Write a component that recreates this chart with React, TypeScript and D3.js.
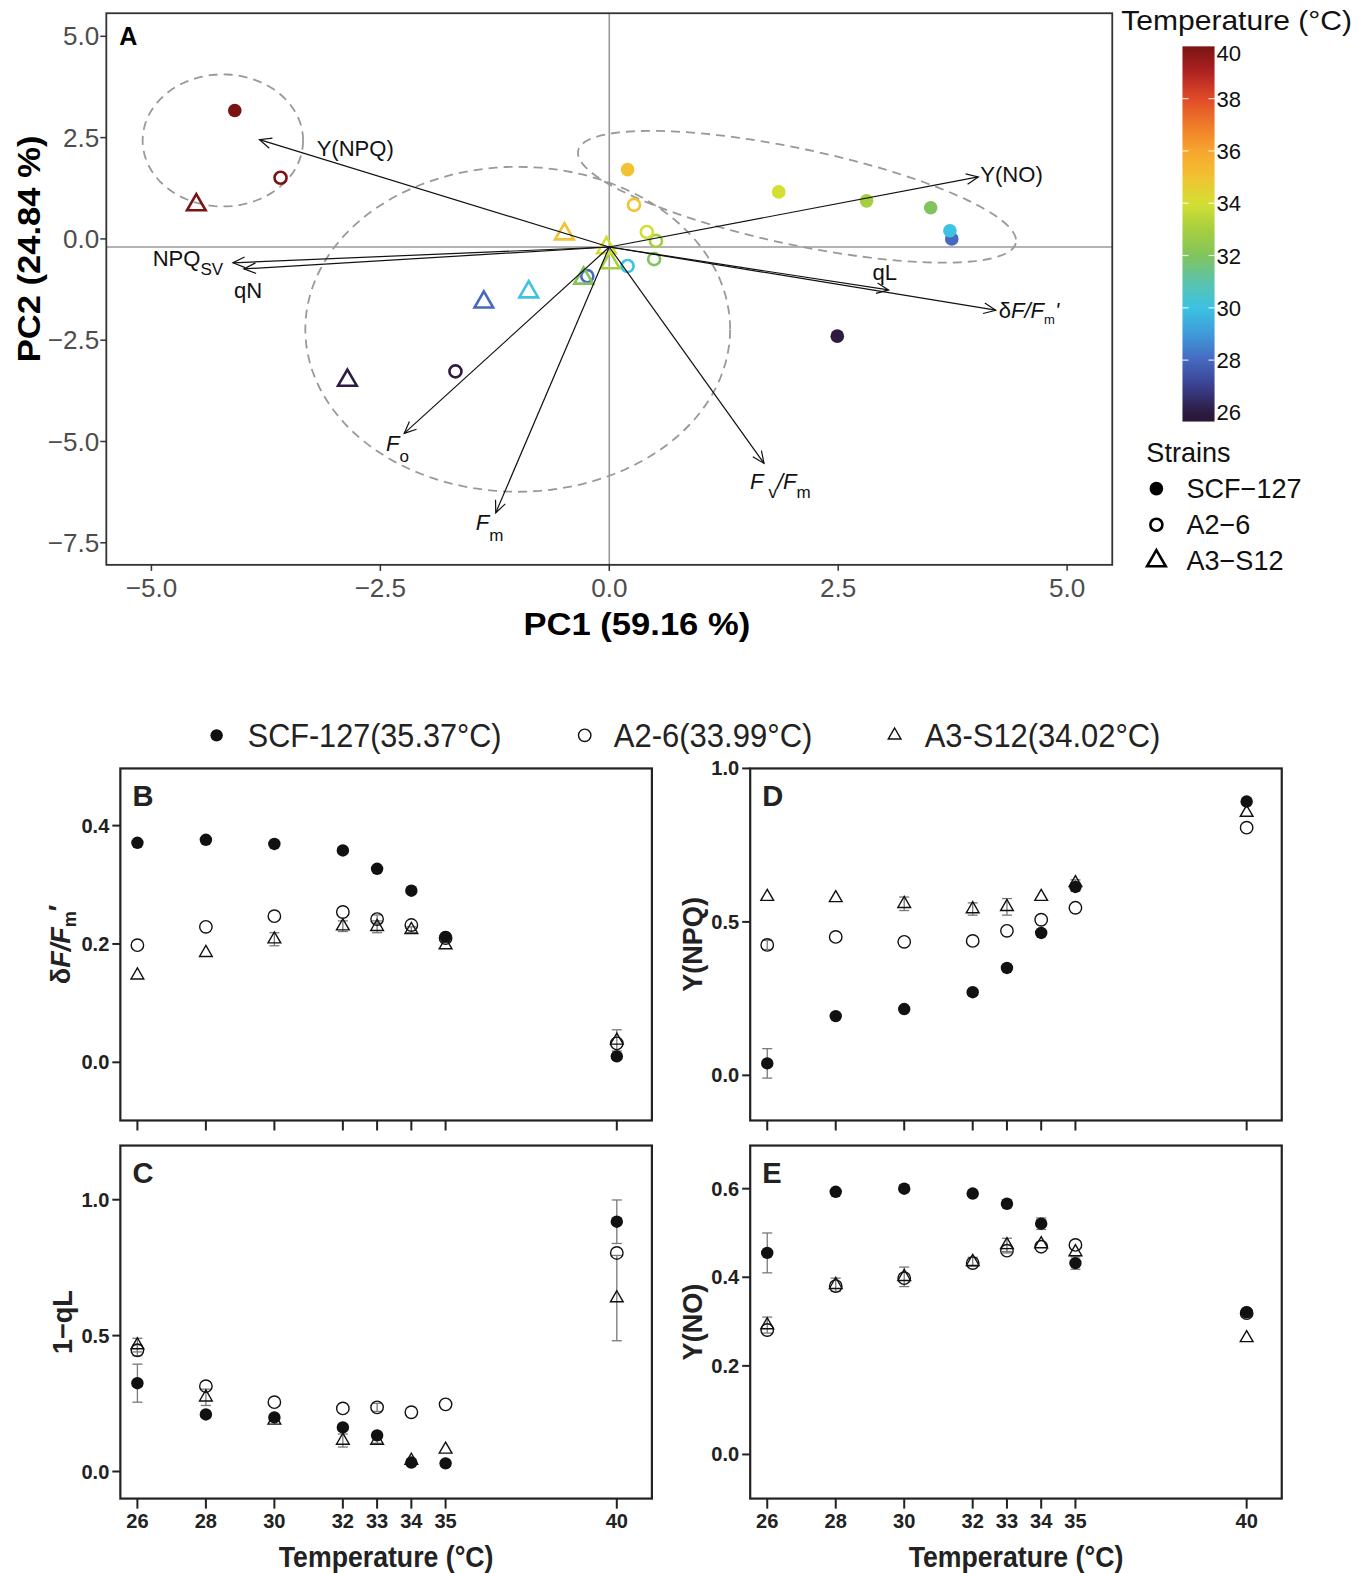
import React from 'react';
import * as d3 from 'd3';

const W = 1363, H = 1568;
const fontA = "'Liberation Sans', Arial, Helvetica, sans-serif";
const fontN = "'Liberation Sans Narrow', 'Arial Narrow', 'Liberation Sans', sans-serif";

// ---------- data ----------
const temps = [26, 28, 30, 32, 33, 34, 35, 40];
const strainLegend = ['SCF\u2212127', 'A2\u22126', 'A3\u2212S12'];
const strainTopt = ['SCF-127(35.37°C)', 'A2-6(33.99°C)', 'A3-S12(34.02°C)'];

// PCA scores (PC1, PC2) per temperature
const pc1SCF = [2.49, 3.74, 3.72, 3.51, 2.81, 1.85, 0.20, -4.09];
const pc2SCF = [-2.40, 0.00, 0.20, 0.77, 0.94, 1.16, 1.71, 3.17];
const pc1A26 = [-1.68, -0.24, 0.20, 0.49, 0.51, 0.41, 0.27, -3.59];
const pc2A26 = [-3.27, -0.92, -0.67, -0.50, -0.05, 0.17, 0.84, 1.51];
const pc1A3 = [-2.86, -1.37, -0.88, -0.28, 0.01, -0.03, -0.49, -4.51];
const pc2A3 = [-3.49, -1.56, -1.31, -0.97, -0.59, -0.22, 0.12, 0.84];

// loadings (arrow tips) and their origin
const loadingNames = ['YNPQ', 'NPQsv', 'qN', 'YNO', 'qL', 'dF', 'Fo', 'Fm', 'FvFm'];
const loadingPC1 = [-3.82, -4.11, -3.99, 4.03, 3.05, 4.22, -2.24, -1.24, 1.69];
const loadingPC2 = [2.45, -0.59, -0.74, 1.53, -1.26, -1.76, -4.80, -6.76, -5.54];
const loadingOrigin = [0, -0.2];

// cluster ellipses: center, semi-axis vectors (data units)
const ellipseCenters = [[-4.22, 2.43], [-1.00, -2.23], [2.05, 1.04]];
const ellipseAxisA = [[0.876, 0], [2.32, 0], [2.39, -1.14]];
const ellipseAxisB = [[0, 1.63], [0, 4.01], [-0.11, -1.16]];

const pcaXTicks = [-5, -2.5, 0, 2.5, 5];
const pcaYTicks = [5, 2.5, 0, -2.5, -5, -7.5];
const colorTicks = [26, 28, 30, 32, 34, 36, 38, 40];
const colorStops: [number, string][] = [
  [25.6, '#2a1838'], [26, '#2d1b40'], [27, '#3a3f8e'], [28, '#4668bf'], [29, '#3f9bd9'],
  [30, '#3cc2e2'], [31, '#5cc3ab'], [32, '#82c45c'], [33, '#a6cf3f'], [34, '#d3df33'],
  [35, '#f1c232'], [36, '#f7a52e'], [37, '#ef7a29'], [38, '#df4b28'], [39, '#b02222'], [40, '#7a1414'],
];

// panel B: deltaF/Fm'
const dF_SCF = [0.371, 0.376, 0.369, 0.358, 0.327, 0.290, 0.212, 0.010];
const dF_A26 = [0.198, 0.229, 0.247, 0.254, 0.242, 0.232, 0.210, 0.032];
const dF_A3 = [0.147, 0.185, 0.208, 0.230, 0.229, 0.224, 0.198, 0.037];
const dF_SCF_se = [0, 0, 0, 0, 0, 0, 0, 0];
const dF_A26_se = [0, 0, 0, 0, 0.007, 0, 0, 0];
const dF_A3_se = [0, 0, 0.011, 0.009, 0.010, 0.005, 0, 0.018];

// panel C: 1-qL
const qL_SCF = [0.325, 0.210, 0.199, 0.162, 0.133, 0.033, 0.030, 0.919];
const qL_A26 = [0.446, 0.314, 0.255, 0.232, 0.236, 0.218, 0.247, 0.804];
const qL_A3 = [0.465, 0.273, 0.188, 0.114, 0.114, 0.040, 0.081, 0.638];
const qL_SCF_se = [0.07, 0, 0, 0, 0, 0, 0, 0.08];
const qL_A26_se = [0.02, 0, 0, 0, 0.015, 0, 0, 0];
const qL_A3_se = [0.025, 0.03, 0, 0.024, 0.01, 0, 0, 0.157];

// panel D: Y(NPQ)
const npq_SCF = [0.039, 0.193, 0.216, 0.271, 0.350, 0.464, 0.614, 0.892];
const npq_A26 = [0.425, 0.451, 0.435, 0.438, 0.471, 0.507, 0.546, 0.807];
const npq_A3 = [0.582, 0.578, 0.559, 0.542, 0.549, 0.582, 0.627, 0.856];
const npq_SCF_se = [0.048, 0, 0, 0, 0, 0, 0.013, 0];
const npq_A26_se = [0.015, 0, 0, 0, 0, 0, 0, 0];
const npq_A3_se = [0, 0, 0.022, 0.02, 0.027, 0, 0.01, 0];

// panel E: Y(NO)
const no_SCF = [0.455, 0.593, 0.600, 0.589, 0.566, 0.521, 0.432, 0.321];
const no_A26 = [0.281, 0.380, 0.398, 0.432, 0.460, 0.469, 0.473, 0.319];
const no_A3 = [0.292, 0.383, 0.401, 0.435, 0.473, 0.475, 0.457, 0.263];
const no_SCF_se = [0.045, 0, 0, 0, 0, 0.013, 0.014, 0];
const no_A26_se = [0, 0, 0, 0, 0.005, 0, 0, 0];
const no_A3_se = [0.018, 0.015, 0.022, 0.01, 0.015, 0, 0, 0];

// ---------- helpers ----------
const triPath = (size: number) => d3.symbol(d3.symbolTriangle, size)() as string;

function Marker({ type, x, y, color, big }: { type: number; x: number; y: number; color: string; big: boolean }) {
  if (type === 0) return <circle cx={x} cy={y} r={big ? 6.8 : 6.2} fill={color} />;
  if (type === 1)
    return <circle cx={x} cy={y} r={big ? 6 : 6.2} fill="none" stroke={color} strokeWidth={big ? 2.6 : 1.4} />;
  return (
    <path d={triPath(big ? 150 : 70)} transform={`translate(${x},${y})`} fill="none" stroke={color}
      strokeWidth={big ? 2.6 : 1.4} strokeLinejoin="miter" />
  );
}

function arrowHead(x1: number, y1: number, x2: number, y2: number) {
  const ang = Math.atan2(y2 - y1, x2 - x1);
  const L = 13, a = Math.PI / 7.5;
  const p1 = [x2 - L * Math.cos(ang - a), y2 - L * Math.sin(ang - a)];
  const p2 = [x2 - L * Math.cos(ang + a), y2 - L * Math.sin(ang + a)];
  return `M${p1[0]},${p1[1]}L${x2},${y2}L${p2[0]},${p2[1]}`;
}

function LoadingLabel({ name, x, y }: { name: string; x: number; y: number }) {
  const fs = 22, sub = 17;
  const common = { fontFamily: fontA, fontSize: fs, fill: '#111' } as any;
  switch (name) {
    case 'YNPQ': return <text x={x + 57} y={y + 16} {...common}>Y(NPQ)</text>;
    case 'NPQsv': return <text x={x - 80} y={y + 3} {...common}>NPQ<tspan fontSize={sub} dy={9}>SV</tspan></text>;
    case 'qN': return <text x={x - 10} y={y + 29} {...common}>qN</text>;
    case 'YNO': return <text x={x + 2} y={y + 5} {...common}>Y(NO)</text>;
    case 'qL': return <text x={x - 16} y={y - 10} {...common}>qL</text>;
    case 'dF': return (
      <text x={x + 3} y={y + 8} {...common}>δ<tspan fontStyle="italic">F/F</tspan>
        <tspan fontSize={13} dy={6}>m</tspan><tspan dy={-6} fontStyle="italic">'</tspan></text>);
    case 'Fo': return (
      <text x={x - 18} y={y + 18} {...common}><tspan fontStyle="italic">F</tspan>
        <tspan fontSize={sub} dy={11}>o</tspan></text>);
    case 'Fm': return (
      <text x={x - 20} y={y + 17} {...common}><tspan fontStyle="italic">F</tspan>
        <tspan fontSize={sub} dy={11}>m</tspan></text>);
    case 'FvFm': return (
      <text x={x - 14} y={y + 26} {...common}><tspan fontStyle="italic">F</tspan>
        <tspan fontSize={sub} dx={5} dy={9}>v</tspan><tspan dy={-9} fontStyle="italic">/F</tspan>
        <tspan fontSize={sub} dy={9}>m</tspan></text>);
  }
  return null;
}

// ---------- bottom panels ----------
type PanelCfg = {
  letter: string; frame: [number, number, number, number]; yDom: [number, number];
  yRange: [number, number]; yTicks: number[]; fmt: string; xRange: [number, number];
  vals: number[][]; errs: number[][]; xLabels: boolean; title: React.ReactNode; titleX: number;
};

function BottomPanel({ cfg }: { cfg: PanelCfg }) {
  const [x0, y0, x1, y1] = cfg.frame;
  const x = d3.scaleLinear().domain([26, 40]).range(cfg.xRange);
  const y = d3.scaleLinear().domain(cfg.yDom).range(cfg.yRange);
  const f = d3.format(cfg.fmt);
  const order = [1, 0, 2];
  return (
    <g>
      {/* y ticks */}
      {cfg.yTicks.map(t => (
        <g key={t}>
          <line x1={x0 - 8} x2={x0} y1={y(t)} y2={y(t)} stroke="#222" strokeWidth={2} />
          <text x={x0 - 11} y={y(t) + 7} textAnchor="end" fontFamily={fontN} fontWeight="bold" fontSize={20} fill="#222">{f(t)}</text>
        </g>
      ))}
      {/* x ticks */}
      {temps.map(t => (
        <g key={t}>
          <line x1={x(t)} x2={x(t)} y1={y1} y2={y1 + 10} stroke="#222" strokeWidth={2} />
          {cfg.xLabels && (
            <text x={x(t)} y={y1 + 29} textAnchor="middle" fontFamily={fontN} fontWeight="bold" fontSize={20} fill="#222">{t}</text>
          )}
        </g>
      ))}
      {/* error bars */}
      {order.map(s => cfg.errs[s].map((e, i) => e > 0 ? (
        <g key={`e${s}-${i}`} stroke="#7a7a7a" strokeWidth={1.3}>
          <line x1={x(temps[i])} x2={x(temps[i])} y1={y(cfg.vals[s][i] - e)} y2={y(cfg.vals[s][i] + e)} />
          <line x1={x(temps[i]) - 5} x2={x(temps[i]) + 5} y1={y(cfg.vals[s][i] - e)} y2={y(cfg.vals[s][i] - e)} />
          <line x1={x(temps[i]) - 5} x2={x(temps[i]) + 5} y1={y(cfg.vals[s][i] + e)} y2={y(cfg.vals[s][i] + e)} />
        </g>
      ) : null))}
      {/* points */}
      {order.map(s => cfg.vals[s].map((v, i) => (
        <Marker key={`p${s}-${i}`} type={s} x={x(temps[i])} y={y(v)} color="#111" big={false} />
      )))}
      <rect x={x0} y={y0} width={x1 - x0} height={y1 - y0} fill="none" stroke="#222" strokeWidth={2.2} />
      <text x={x0 + 12} y={y0 + 37} fontFamily={fontA} fontWeight="bold" fontSize={29} fill="#222">{cfg.letter}</text>
      <text transform={`translate(${cfg.titleX},${(y0 + y1) / 2}) rotate(-90)`} textAnchor="middle"
        fontFamily={fontN} fontWeight="bold" fontSize={27} fill="#222">{cfg.title}</text>
      {cfg.xLabels && (
        <text x={(x0 + x1) / 2} y={1562} textAnchor="middle" fontFamily={fontN} fontWeight="bold" fontSize={29}
          fill="#222" textLength={214} lengthAdjust="spacingAndGlyphs">Temperature (°C)</text>
      )}
    </g>
  );
}

export default function App() {
  // PCA panel
  const xA = d3.scaleLinear().domain([-5, 5]).range([151, 1064]);
  const yA = d3.scaleLinear().domain([-7.5, 5]).range([541, 36]);
  const frameA = { x0: 106, y0: 13, x1: 1109, y1: 563 };
  const tColor = d3.scaleLinear<string>().domain(colorStops.map(d => d[0])).range(colorStops.map(d => d[1]))
    .interpolate(d3.interpolateRgb).clamp(true);
  const cbY = d3.scaleLinear().domain([26, 40]).range([411, 46]);
  const cbTop = cbY(40), cbBot = cbY(25.65);

  const pcaSeries = [[pc1SCF, pc2SCF], [pc1A26, pc2A26], [pc1A3, pc2A3]];
  const ox = xA(loadingOrigin[0]), oy = yA(loadingOrigin[1]);

  const ellipsePath = (k: number) => {
    const pts: [number, number][] = d3.range(0, 361, 3).map(deg => {
      const t = (deg * Math.PI) / 180;
      const c = ellipseCenters[k], a = ellipseAxisA[k], b = ellipseAxisB[k];
      return [xA(c[0] + a[0] * Math.cos(t) + b[0] * Math.sin(t)), yA(c[1] + a[1] * Math.cos(t) + b[1] * Math.sin(t))];
    });
    return d3.line()(pts) as string;
  };

  const panels: PanelCfg[] = [
    { letter: 'B', frame: [120, 766, 650, 1117], yDom: [0, 0.4], yRange: [1059, 823], yTicks: [0, 0.2, 0.4], fmt: '.1f',
      xRange: [137, 615], vals: [dF_SCF, dF_A26, dF_A3], errs: [dF_SCF_se, dF_A26_se, dF_A3_se], xLabels: false, titleX: 70,
      title: <>δ<tspan fontStyle="italic">F</tspan><tspan fontStyle="italic">/F</tspan><tspan fontSize={18} dy={6}>m</tspan><tspan dy={-8}>′</tspan></> },
    { letter: 'D', frame: [748, 766, 1278, 1117], yDom: [0, 1], yRange: [1072, 766], yTicks: [0, 0.5, 1], fmt: '.1f',
      xRange: [765, 1243], vals: [npq_SCF, npq_A26, npq_A3], errs: [npq_SCF_se, npq_A26_se, npq_A3_se], xLabels: false, titleX: 700,
      title: 'Y(NPQ)' },
    { letter: 'C', frame: [120, 1142, 650, 1494], yDom: [0, 1], yRange: [1467, 1196], yTicks: [0, 0.5, 1], fmt: '.1f',
      xRange: [137, 615], vals: [qL_SCF, qL_A26, qL_A3], errs: [qL_SCF_se, qL_A26_se, qL_A3_se], xLabels: true, titleX: 72,
      title: '1\u2212qL' },
    { letter: 'E', frame: [748, 1142, 1278, 1494], yDom: [0, 0.6], yRange: [1450, 1185], yTicks: [0, 0.2, 0.4, 0.6], fmt: '.1f',
      xRange: [765, 1243], vals: [no_SCF, no_A26, no_A3], errs: [no_SCF_se, no_A26_se, no_A3_se], xLabels: true, titleX: 700,
      title: 'Y(NO)' },
  ];

  const legendX = [216, 583, 892];
  const legendTextX = [247, 612, 922];
  const legendW = [253, 198, 235];

  return (
    <svg width={1367} height={1573} viewBox={`0 0 ${W} ${H}`} style={{ position: 'absolute', left: 0, top: 0, background: '#fff' }}>
      <defs>
        <linearGradient id="tgrad" x1="0" y1="1" x2="0" y2="0">
          {colorStops.map(([t, c]) => (
            <stop key={t} offset={`${((t - 25.65) / (40 - 25.65)) * 100}%`} stopColor={c} />
          ))}
        </linearGradient>
        <clipPath id="clipA"><rect x={frameA.x0} y={frameA.y0} width={frameA.x1 - frameA.x0} height={frameA.y1 - frameA.y0} /></clipPath>
      </defs>
      <rect x={0} y={0} width={W} height={H} fill="#fff" />

      {/* ===== Panel A ===== */}
      <g clipPath="url(#clipA)">
        <line x1={frameA.x0} x2={frameA.x1} y1={oy} y2={oy} stroke="#9a9a9a" strokeWidth={1.6} />
        <line x1={xA(0)} x2={xA(0)} y1={frameA.y0} y2={frameA.y1} stroke="#9a9a9a" strokeWidth={1.6} />
        {ellipseCenters.map((_, k) => (
          <path key={k} d={ellipsePath(k)} fill="none" stroke="#999" strokeWidth={1.8} strokeDasharray="9 6" />
        ))}
        {pcaSeries.map((s, si) => s[0].map((v, i) => (
          <Marker key={`a${si}-${i}`} type={si} x={xA(v)} y={yA(s[1][i])} color={tColor(temps[i])} big={true} />
        )))}
        {loadingNames.map((n, i) => {
          const tx = xA(loadingPC1[i]), ty = yA(loadingPC2[i]);
          return (
            <g key={n} stroke="#111" strokeWidth={1.2} fill="none">
              <line x1={ox} y1={oy} x2={tx} y2={ty} />
              <path d={arrowHead(ox, oy, tx, ty)} />
            </g>
          );
        })}
      </g>
      {loadingNames.map((n, i) => (
        <LoadingLabel key={n} name={n} x={xA(loadingPC1[i])} y={yA(loadingPC2[i])} />
      ))}
      <rect x={frameA.x0} y={frameA.y0} width={frameA.x1 - frameA.x0} height={frameA.y1 - frameA.y0} fill="none" stroke="#333" strokeWidth={1.8} />
      <text x={119} y={45} fontFamily={fontA} fontWeight="bold" fontSize={25} fill="#000">A</text>
      {pcaXTicks.map(t => (
        <g key={t}>
          <line x1={xA(t)} x2={xA(t)} y1={frameA.y1} y2={frameA.y1 + 6} stroke="#333" strokeWidth={1.5} />
          <text x={xA(t)} y={frameA.y1 + 32} textAnchor="middle" fontFamily={fontA} fontSize={26} fill="#4d4d4d">
            {d3.format('.1f')(t).replace('-', '\u2212')}</text>
        </g>
      ))}
      {pcaYTicks.map(t => (
        <g key={t}>
          <line x1={frameA.x0 - 6} x2={frameA.x0} y1={yA(t)} y2={yA(t)} stroke="#333" strokeWidth={1.5} />
          <text x={frameA.x0 - 7} y={yA(t) + 9} textAnchor="end" fontFamily={fontA} fontSize={26} fill="#4d4d4d">
            {d3.format('.1f')(t).replace('-', '\u2212')}</text>
        </g>
      ))}
      <text x={635} y={633} textAnchor="middle" fontFamily={fontA} fontWeight="bold" fontSize={31} fill="#000"
        textLength={226} lengthAdjust="spacingAndGlyphs">PC1 (59.16 %)</text>
      <text transform={`translate(40,248) rotate(-90)`} textAnchor="middle" fontFamily={fontA} fontWeight="bold" fontSize={31}
        fill="#000" textLength={226} lengthAdjust="spacingAndGlyphs">PC2 (24.84 %)</text>

      {/* colour bar legend */}
      <text x={1118} y={30} fontFamily={fontA} fontSize={27} fill="#111" textLength={230} lengthAdjust="spacingAndGlyphs">Temperature (°C)</text>
      <rect x={1179} y={cbTop} width={32} height={cbBot - cbTop} fill="url(#tgrad)" />
      {colorTicks.map(t => (
        <g key={t}>
          {t > 26 && t < 40 && (
            <g stroke="#fff" strokeWidth={1.2} opacity={0.85}>
              <line x1={1179} x2={1185} y1={cbY(t)} y2={cbY(t)} />
              <line x1={1205} x2={1211} y1={cbY(t)} y2={cbY(t)} />
            </g>
          )}
          <text x={1213} y={cbY(t) + (t === 40 ? 15 : t === 26 ? 8 : 8)} fontFamily={fontA} fontSize={22} fill="#111">{t}</text>
        </g>
      ))}
      <text x={1143} y={460} fontFamily={fontA} fontSize={27} fill="#111">Strains</text>
      {strainLegend.map((s, i) => (
        <g key={s}>
          <Marker type={i} x={1153} y={487 + i * 36} color="#000" big={true} />
          <text x={1183} y={496 + i * 36} fontFamily={fontA} fontSize={27} fill="#111">{s}</text>
        </g>
      ))}

      {/* ===== bottom legend ===== */}
      {strainTopt.map((s, i) => (
        <g key={s}>
          <Marker type={i} x={legendX[i]} y={733} color="#111" big={false} />
          <text x={legendTextX[i]} y={745} fontFamily={fontN} fontSize={33} fill="#222"
            textLength={legendW[i]} lengthAdjust="spacingAndGlyphs">{s}</text>
        </g>
      ))}

      {panels.map(p => <BottomPanel key={p.letter} cfg={p} />)}
    </svg>
  );
}
